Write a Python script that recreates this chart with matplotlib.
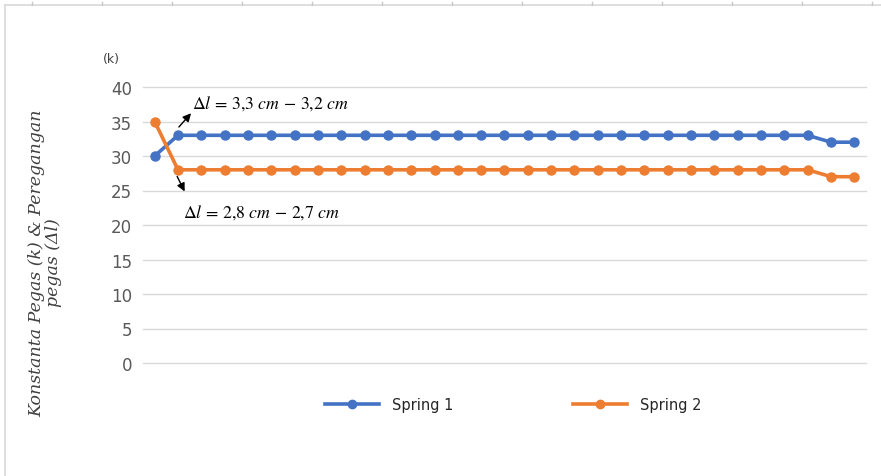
import matplotlib.pyplot as plt
from matplotlib.lines import Line2D

# spring constant per trial
trials = list(range(1, 32))
spring1 = [30] + [33] * 28 + [32] * 2
spring2 = [35] + [28] * 28 + [27] * 2
yticks = [0, 5, 10, 15, 20, 25, 30, 35, 40]

blue = '#4472C4'
orange = '#ED7D31'
grid_c = '#D9D9D9'
text_c = '#595959'

plt.rcParams['mathtext.fontset'] = 'stix'

W, H = 881, 477
fig = plt.figure(figsize=(W / 100, H / 100), dpi=100)
ax = fig.add_axes([143 / W, 1 - 364 / H, (866 - 143) / W, (364 - 88) / H])

xs = list(range(len(trials)))
ax.plot(xs, spring1, color=blue, lw=2.6, marker='o', ms=6.5, solid_capstyle='round', zorder=3)
ax.plot(xs, spring2, color=orange, lw=2.6, marker='o', ms=6.5, solid_capstyle='round', zorder=3)

ax.set_xlim(-0.5, len(trials) - 0.5)
ax.set_ylim(0, 40)
ax.set_yticks(yticks)
ax.set_xticks([])
ax.yaxis.grid(True, color=grid_c, lw=1)
for gl in ax.get_ygridlines():
    gl.set_clip_on(False)
ax.set_axisbelow(True)
for s in ax.spines.values():
    s.set_visible(False)
ax.tick_params(axis='y', length=0, labelsize=12, labelcolor=text_c, pad=8)

# stretch annotations
ax.annotate('', xy=(1.64, 36.5), xytext=(0.96, 33.9),
            arrowprops=dict(arrowstyle='-|>', color='black', lw=1, mutation_scale=12))
ax.text(1.6, 37.8, r'$\Delta l\, =\, 3{,}3\ cm\, -\, 3{,}2\ cm$', fontsize=12.8, va='center', ha='left')
ax.annotate('', xy=(1.34, 24.5), xytext=(0.91, 27.4),
            arrowprops=dict(arrowstyle='-|>', color='black', lw=1, mutation_scale=12))
ax.text(1.21, 21.9, r'$\Delta l\, =\, 2{,}8\ cm\, -\, 2{,}7\ cm$', fontsize=12.8, va='center', ha='left')

# axis titles
fig.text(111 / W, 1 - 60 / H, '(k)', fontsize=9, color='#404040', ha='center', va='center')
fig.text(45 / W, 1 - 263 / H, 'Konstanta Pegas (k) & Peregangan\npegas (\u0394l)',
         rotation=90, ha='center', va='center', fontsize=12.5, color='#404040',
         family='DejaVu Serif', style='italic', linespacing=1.0)

# legend
handles = [Line2D([], [], color=blue, lw=2.6, marker='o', ms=6),
           Line2D([], [], color=orange, lw=2.6, marker='o', ms=6)]
fig.legend(handles, ['Spring 1', 'Spring 2'], loc='center', bbox_to_anchor=(513 / W, 1 - 406 / H),
           ncol=2, frameon=False, fontsize=10.5, handlelength=3.7, handletextpad=0.9,
           columnspacing=8.2, labelcolor='#262626')

# outer frame with ruler ticks
fig.add_artist(Line2D([5 / W, 5 / W], [0, 1 - 6 / H], color=grid_c, lw=1.2))
fig.add_artist(Line2D([5 / W, 1], [1 - 6 / H, 1 - 6 / H], color=grid_c, lw=1.2))
for px in range(32, W, 70):
    fig.add_artist(Line2D([px / W, px / W], [1 - 6 / H, 1 - 3 / H], color='#C8C8C8', lw=1))

fig.savefig('out.png', dpi=100)
